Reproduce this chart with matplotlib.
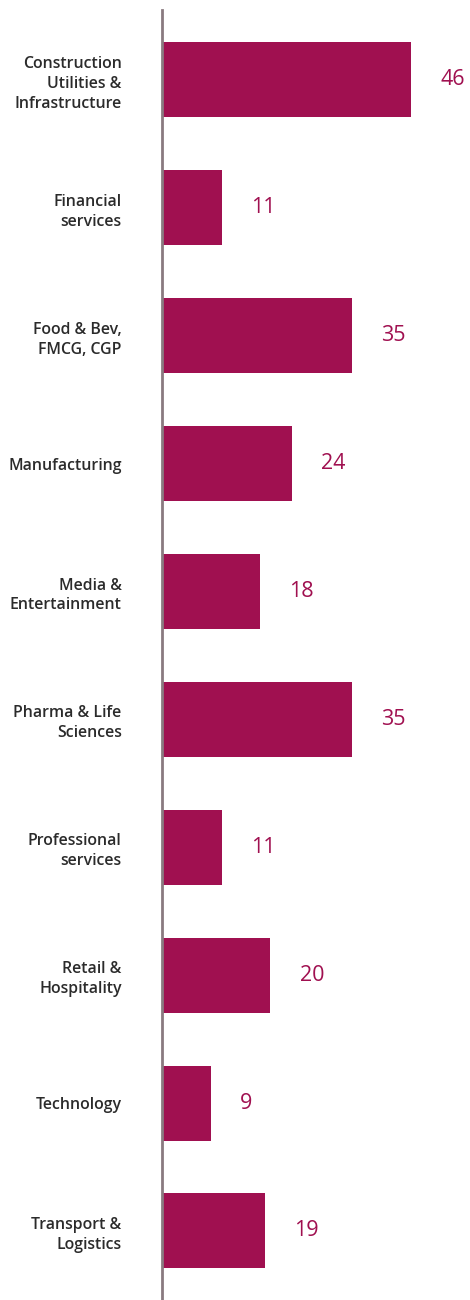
import matplotlib
matplotlib.use("Agg")
import matplotlib.pyplot as plt

# data
sectors = [
    "Construction\nUtilities &\nInfrastructure",
    "Financial\nservices",
    "Food & Bev,\nFMCG, CGP",
    "Manufacturing",
    "Media &\nEntertainment",
    "Pharma & Life\nSciences",
    "Professional\nservices",
    "Retail &\nHospitality",
    "Technology",
    "Transport &\nLogistics",
]
counts = [46, 11, 35, 24, 18, 35, 11, 20, 9, 19]

bar_col = "#a01050"
axis_col = "#8a7a80"

plt.rcParams["font.family"] = ["Open Sans", "DejaVu Sans"]

fig = plt.figure(figsize=(4.7, 13), dpi=100)
ax = fig.add_axes([162 / 470, 0, 306 / 470, 1290 / 1300])

ypos = list(range(len(sectors)))
ax.barh(ypos, counts, height=0.587, color=bar_col, left=0)

for y, v in zip(ypos, counts):
    ax.annotate(str(v), xy=(v, y), xytext=(21, 0), textcoords="offset points",
                ha="left", va="center", fontsize=15.5, color=bar_col)

ax.set_yticks(ypos)
ax.set_yticklabels(sectors, fontsize=11.4, color="#2b2b2b", linespacing=1.33,
                   fontweight="semibold")
ax.tick_params(axis="y", length=0, pad=29)
ax.set_xticks([])
ax.set_xlim(0, 306 / 5.42)
ax.set_ylim(9.54, -0.547)

for s in ["top", "right", "bottom"]:
    ax.spines[s].set_visible(False)
ax.spines["left"].set_color(axis_col)
ax.spines["left"].set_linewidth(2)

fig.savefig("out.png", dpi=100)
